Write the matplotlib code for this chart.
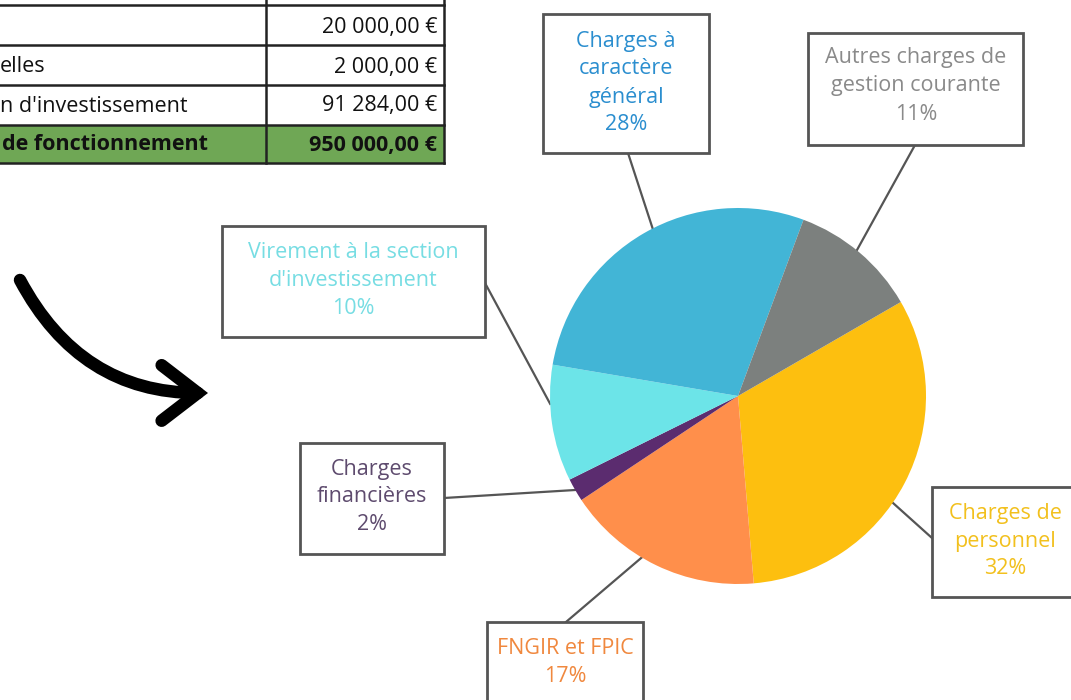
import matplotlib.pyplot as plt
import numpy as np
from matplotlib.patches import Rectangle, FancyArrowPatch

plt.rcParams['font.family'] = ['Open Sans', 'DejaVu Sans']

# pie data (in drawing order, clockwise from the top right)
labels = ["Charges de\npersonnel", "FNGIR et FPIC", "Charges\nfinancières",
          "Virement à la section\nd'investissement", "Charges à\ncaractère\ngénéral",
          "Autres charges de\ngestion courante"]
shares = [32, 17, 2, 10, 28, 11]
wedge_colors = ["#FDBF0F", "#FF8F4B", "#5B2C6F", "#6CE4E8", "#42B5D6", "#7C807E"]
text_colors = ["#F2C01D", "#F0883E", "#5E4B6E", "#77DDE3", "#2B8ECF", "#8A8A8A"]

# table fragment on the top left
table_left = ["", "", "elles", "n d'investissement", "de fonctionnement"]
table_right = ["", "20 000,00 €", "2 000,00 €", "91 284,00 €", "950 000,00 €"]

W, H = 1071, 700


def Y(py):
    return H - py


fig = plt.figure(figsize=(10.71, 7), dpi=100)
ax = fig.add_axes([0, 0, 1, 1])

cx, cy, r = 738, Y(396), 188
wedges, _ = ax.pie(shares, colors=wedge_colors, startangle=30, counterclock=False,
                   center=(cx, cy), radius=r, wedgeprops=dict(linewidth=0))
for w in wedges:
    w.set_zorder(3)

# boxes: (left, top, right, bottom) in pixels, anchor of leader line on the box
boxes = [
    ((932, 487, 1080, 597), (932, 538)),
    ((487, 622, 643, 710), (566, 622)),
    ((300, 443, 444, 554), (444, 498)),
    ((222, 226, 485, 337), (485, 283)),
    ((543, 14, 709, 153), (628, 153)),
    ((808, 33, 1023, 145), (915, 145)),
]
text_x = [1005, 565, 372, 353, 626, 916]
text_top = [513, 648, 469, 252, 41, 58]
line_shift = [-7, -5, 0, -6, -3, 1]   # small offset of the leader end along the rim (deg)

angles = np.cumsum([0] + shares)
for i, (lab, pct) in enumerate(zip(labels, shares)):
    (l, t, rr, b), (ax0, ay0) = boxes[i]
    ax.add_patch(Rectangle((l, Y(b)), rr - l, b - t, facecolor="white",
                           edgecolor="#555555", lw=2, zorder=4))
    mid = np.deg2rad(30 - (angles[i] + angles[i + 1]) / 2 * 3.6 + line_shift[i])
    px, py = cx + r * np.cos(mid), cy + r * np.sin(mid)
    ax.plot([ax0, px], [Y(ay0), py], color="#555555", lw=1.6, zorder=2)
    lines = lab.split("\n") + [f"{pct}%"]
    for k, s in enumerate(lines):
        ax.text(text_x[i], Y(text_top[i] + 28 * k), s, color=text_colors[i],
                fontsize=15.5, ha="center", va="center", zorder=5)

# table
row_lines = [5, 45, 85, 125, 163]
ax.add_patch(Rectangle((-5, Y(163)), 449, 38, facecolor="#6FA755", edgecolor="none", zorder=1))
for yl in row_lines:
    ax.plot([-5, 444], [Y(yl), Y(yl)], color="#222222", lw=1.8, zorder=2)
ax.plot([266, 266], [Y(-5), Y(163)], color="#222222", lw=1.8, zorder=2)
ax.plot([444, 444], [Y(-5), Y(163)], color="#222222", lw=1.8, zorder=2)
row_mid = [0, 27, 67, 106, 145]
for k in range(1, 5):
    bold = "bold" if k == 4 else "normal"
    ax.text(2 if k == 4 else 0, Y(row_mid[k]), table_left[k], fontsize=15.5, fontweight=bold,
            ha="left", va="center", color="#111111", zorder=3)
    ax.text(437, Y(row_mid[k]), table_right[k], fontsize=15.5, fontweight=bold,
            ha="right", va="center", color="#111111", zorder=3)

# hand drawn arrow
arr = FancyArrowPatch((20, Y(280)), (208, Y(393)), connectionstyle="arc3,rad=0.3",
                      arrowstyle="->,head_length=1.3,head_width=1.0", lw=9,
                      mutation_scale=20, color="black", capstyle="round",
                      joinstyle="miter", shrinkA=0, shrinkB=0, zorder=3)
ax.add_patch(arr)

ax.set_xlim(0, W)
ax.set_ylim(0, H)
ax.set_aspect("auto")
ax.axis("off")

fig.savefig("out.png", dpi=100)
